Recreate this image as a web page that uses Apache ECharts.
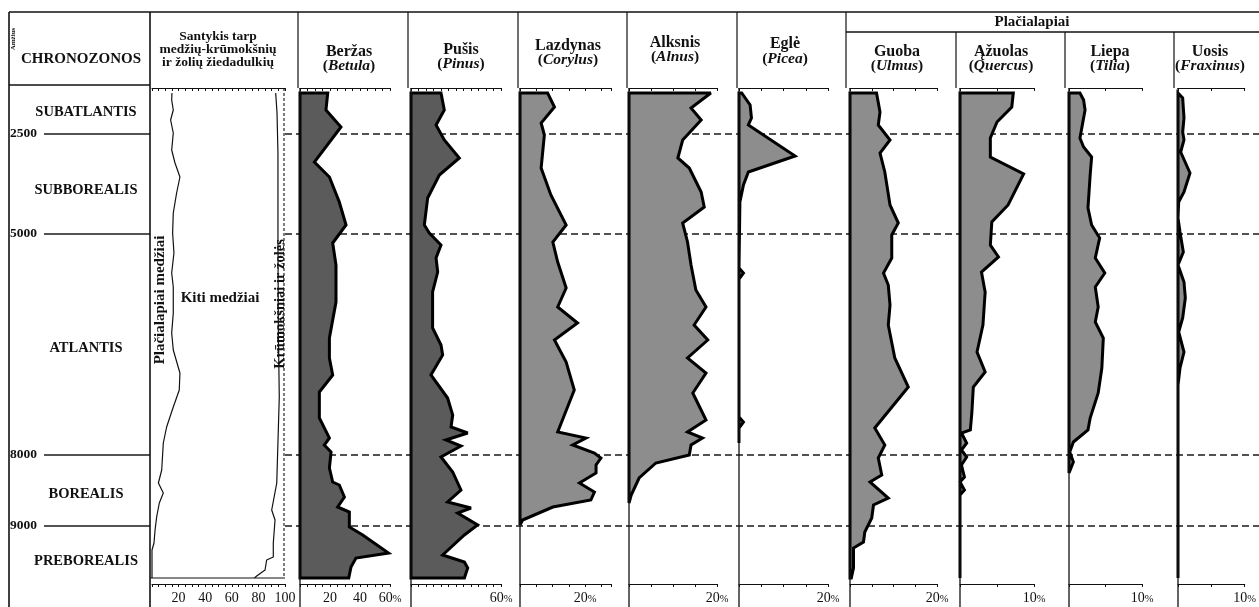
<!DOCTYPE html>
<html>
<head>
<meta charset="utf-8">
<script src="https://cdn.jsdelivr.net/npm/echarts@6/dist/echarts.min.js"></script>
<style>
  html, body { margin: 0; padding: 0; background: #fff; }
  #chart { width: 1259px; height: 607px; }
</style>
</head>
<body>
<div id="chart"></div>
<script>
// Pollen diagram: tree/shrub/herb ratio and tree taxa percentages along the core.
// Depth runs downward in core units (0 = top of the diagram).
const DEPTH_MAX = 485;

// Age boundaries (years BP) and their depths
const ageBoundaries = [
  { age: '2500', depth: 41 },
  { age: '5000', depth: 141 },
  { age: '8000', depth: 362 },
  { age: '9000', depth: 433 }
];

// Chronozones with the depth of their label
const chronozones = [
  { name: 'SUBATLANTIS', depth: 19 },
  { name: 'SUBBOREALIS', depth: 97 },
  { name: 'ATLANTIS', depth: 255 },
  { name: 'BOREALIS', depth: 401 },
  { name: 'PREBOREALIS', depth: 468 }
];

// Ratio panel: cumulative curves, [depth, %]
const broadleafShare = [
  [0,15],[7,14.8],[17,16],[27,14],[40,16],[57,14.8],[70,17.3],[84,21],[100,18.5],[120,16],
  [140,15.5],[160,16.5],[180,14.8],[194,16],[220,16],[240,14.8],[257,16],[280,21],[297,20.5],
  [314,16],[334,11],[350,8.5],[377,7.3],[390,4.8],[400,8.5],[410,5.5],[424,3.5],[437,2.3],
  [450,1.5],[457,0],[485,0]
];
const treeShare = [
  [0,93],[20,94],[60,94.7],[140,94.7],[237,95],[304,95.7],[390,93.8],[417,90],[427,92.5],
  [450,91.2],[464,91.2],[467,86.2],[477,85],[483,78.7],[485,77]
];

// Taxa percentages, [depth, %]
const betula = [
  [0,18.5],[17,17.3],[34,27.3],[69,9.6],[84,19.6],[109,26.2],[132,30.7],[150,21.8],[172,24],
  [209,24],[245,19.6],[265,19.6],[282,21.8],[299,12.9],[325,12.9],[345,19.6],[352,16.2],
  [359,20.7],[375,19.6],[389,21.8],[392,26.2],[404,29.6],[414,25.1],[419,32.9],[434,32.9],
  [442,41.8],[460,59],[465,37.3],[474,34],[485,32.5]
];
const pinus = [
  [0,20],[17,22.2],[32,16.7],[47,22.2],[65,32.2],[82,18.9],[105,11.1],[132,8.9],[140,12.2],
  [152,20],[165,16.7],[179,17.8],[199,14.4],[235,14.4],[252,20],[262,21.1],[282,13.3],
  [305,24.4],[322,27.8],[334,26.7],[340,37.8],[347,23.3],[353,33.3],[364,20],[379,27.8],
  [397,33.3],[409,24.4],[415,40],[420,31.1],[432,44.4],[442,35.6],[462,21.1],[469,35.6],
  [475,37.8],[485,35.6]
];
const corylus = [
  [0,8.5],[14,10.6],[30,6.5],[42,7.5],[75,6.5],[102,9.5],[132,14.2],[149,10.1],[169,11.6],
  [195,14.2],[214,11.6],[230,17.7],[247,10.6],[269,14.2],[297,16.7],[339,11.6],[345,20.3],
  [352,16.2],[360,22.9],[365,24.9],[372,23.4],[380,23.4],[390,18.3],[399,22.9],[407,21.8],
  [414,10.1],[427,0.8],[432,0]
];
const alnus = [
  [0,18.6],[15,14.1],[27,16.4],[47,12.2],[65,11.1],[75,13.7],[99,16.4],[114,17.1],[130,12.2],
  [149,13.3],[172,14.1],[197,15.2],[214,17.5],[232,14.8],[247,17.9],[265,13.3],[280,17.5],
  [300,14.5],[327,17.5],[339,13.3],[345,16.7],[352,14.1],[362,13.7],[370,6.1],[385,2.3],
  [402,0.5],[410,0]
];
const picea = [
  [0,0.6],[12,2.5],[25,2.8],[32,2.1],[63,12.6],[79,2.1],[92,1],[109,0.2],[175,0],[180,1],
  [186,0],[324,0],[329,1],[335,0],[350,0]
];
const ulmus = [
  [0,6.1],[19,6.9],[32,6.5],[47,9.2],[60,6.9],[79,8],[112,9.2],[130,11.1],[142,9.6],[165,9.6],
  [180,7.7],[192,8.8],[212,9.2],[232,8.8],[265,10.3],[294,13.4],[335,5.7],[352,8],[365,6.5],
  [382,7.3],[389,4.6],[405,8.8],[412,5.4],[425,5],[439,3.4],[449,3.1],[455,0.8],[475,0.8],
  [485,0.3]
];
const quercus = [
  [0,7.2],[14,7],[29,5],[45,4.1],[64,4.1],[81,8.6],[112,6.5],[129,4.3],[152,4.1],[164,5.2],
  [179,2.9],[199,3.4],[232,3.1],[259,2.3],[279,3.4],[294,1.8],[320,1.6],[337,1.4],[340,0.2],
  [350,0.9],[357,0.2],[364,0.9],[372,0.2],[384,0.6],[389,0],[397,0.6],[402,0],[485,0]
];
const tilia = [
  [0,1.5],[7,2],[17,2.2],[45,1.5],[54,2],[64,3.1],[82,2.9],[115,2.6],[132,3.1],[145,4.2],
  [165,3.6],[180,4.9],[194,3.6],[214,4],[229,3.6],[245,4.7],[275,4.5],[300,4],[325,2.9],
  [337,2.6],[349,0.6],[359,0.1],[369,0.6],[380,0]
];
const fraxinus = [
  [0,0],[5,0.7],[25,0.9],[39,0.7],[47,0.9],[59,0.4],[80,1.8],[99,0.9],[109,0.1],[125,0],[139,0.3],
  [159,0.8],[172,0],[189,0.9],[205,1.1],[225,0.7],[239,0.1],[259,0.9],[275,0.3],[292,0],[485,0]
];

// Labelled ticks on the bottom axes
const ratioTicks = [20, 40, 60, 80, 100];
const betulaTicks = [20, 40, 60];
const pinusTicks = [60];
const corylusTicks = [20];
const alnusTicks = [20];
const piceaTicks = [20];
const ulmusTicks = [20];
const quercusTicks = [10];
const tiliaTicks = [10];
const fraxinusTicks = [10];

// ---------- layout & styles ----------
const FONT = '"Liberation Serif", "Times New Roman", serif';
const INK = '#111';
const DARK = '#5b5b5b';
const MID = '#8d8d8d';
const PLOT_TOP = 93;
const PLOT_H = 485;
const IMG_BOTTOM = 607;
const HDR_TOP = 12;
const HDR_BOTTOM = 88;
const GROUP_LINE = 32;

const ratioPanel = { left: 152, width: 133, max: 100, ticks: ratioTicks };

const taxa = [
  { name: 'Beržas',   latin: 'Betula',   data: betula,   ticks: betulaTicks,   fill: DARK, left: 300,  width: 90, max: 60, sep: 298,  cx: 349,  ny: 52, ly: 66 },
  { name: 'Pušis',    latin: 'Pinus',    data: pinus,    ticks: pinusTicks,    fill: DARK, left: 411,  width: 90, max: 60, sep: 408,  cx: 461,  ny: 50, ly: 64 },
  { name: 'Lazdynas', latin: 'Corylus',  data: corylus,  ticks: corylusTicks,  fill: MID,  left: 520,  width: 91, max: 28, sep: 518,  cx: 568,  ny: 46, ly: 60 },
  { name: 'Alksnis',  latin: 'Alnus',    data: alnus,    ticks: alnusTicks,    fill: MID,  left: 629,  width: 88, max: 20, sep: 627,  cx: 675,  ny: 43, ly: 57 },
  { name: 'Eglė',     latin: 'Picea',    data: picea,    ticks: piceaTicks,    fill: MID,  left: 739,  width: 89, max: 20, sep: 737,  cx: 785,  ny: 44, ly: 59 },
  { name: 'Guoba',    latin: 'Ulmus',    data: ulmus,    ticks: ulmusTicks,    fill: MID,  left: 850,  width: 87, max: 20, sep: 846,  cx: 897,  ny: 52, ly: 66 },
  { name: 'Ąžuolas',  latin: 'Quercus',  data: quercus,  ticks: quercusTicks,  fill: MID,  left: 960,  width: 74, max: 10, sep: 956,  cx: 1001, ny: 52, ly: 66, inGroup: true },
  { name: 'Liepa',    latin: 'Tilia',    data: tilia,    ticks: tiliaTicks,    fill: MID,  left: 1069, width: 73, max: 10, sep: 1065, cx: 1110, ny: 52, ly: 66, inGroup: true },
  { name: 'Uosis',    latin: 'Fraxinus', data: fraxinus, ticks: fraxinusTicks, fill: MID,  left: 1178, width: 70, max: 10, sep: 1174, cx: 1210, ny: 52, ly: 66, inGroup: true }
];

const grids = [{ left: 0, top: PLOT_TOP, width: 1259, height: PLOT_H }];
const xAxes = [{ gridIndex: 0, type: 'value', min: 0, max: 1, show: false }];
const yAxes = [{ gridIndex: 0, type: 'value', min: 0, max: DEPTH_MAX, inverse: true, show: false }];

const labelRich = {
  n: { fontFamily: FONT, fontSize: 14, color: INK },
  s: { fontFamily: FONT, fontSize: 10.5, color: INK, padding: [2, 0, 0, 0] }
};

// Adds one panel (grid + bottom/top axes + depth axis); returns axis indices
function addPanel(p, withPct) {
  const gi = grids.length;
  grids.push({ left: p.left, top: PLOT_TOP, width: p.width, height: PLOT_H });
  const lastTick = p.ticks[p.ticks.length - 1];
  const common = {
    gridIndex: gi, type: 'value', min: 0, max: p.max, interval: 5,
    splitLine: { show: false },
    axisLine: { show: true, onZero: false, lineStyle: { color: INK, width: 1.2 } }
  };
  const xi = xAxes.length;
  xAxes.push(Object.assign({}, common, {
    position: 'bottom', offset: 6,
    axisTick: { show: true, inside: false, length: 3, lineStyle: { color: INK, width: 1 } },
    axisLabel: {
      show: true, margin: 7, customValues: p.ticks,
      formatter: v => (withPct && v === lastTick) ? `{n|${v}}{s|%}` : `{n|${v}}`,
      rich: labelRich
    }
  }));
  xAxes.push(Object.assign({}, common, {
    position: 'top', offset: 5,
    axisTick: { show: true, inside: true, length: 3, lineStyle: { color: INK, width: 1 } },
    axisLabel: { show: false }
  }));
  const yi = yAxes.length;
  yAxes.push({ gridIndex: gi, type: 'value', min: 0, max: DEPTH_MAX, inverse: true, show: false });
  return { xi, yi };
}

const series = [];

// Age boundaries: solid in the chronozone column, dashed across the taxa panels
series.push({
  type: 'custom', xAxisIndex: 0, yAxisIndex: 0, z: 1, silent: true, clip: false,
  data: ageBoundaries.map(b => [0, b.depth]),
  renderItem: (params, api) => {
    const y = api.coord([0, api.value(1)])[1];
    return {
      type: 'group',
      children: [
        { type: 'line', shape: { x1: 44, y1: y, x2: 150, y2: y }, style: { stroke: '#1a1a1a', lineWidth: 1.5 } },
        { type: 'line', shape: { x1: 285, y1: y, x2: 1259, y2: y }, style: { stroke: '#1a1a1a', lineWidth: 1.5, lineDash: [7, 4] } },
        { type: 'text', x: 10, y: y, style: {
          text: ageBoundaries[params.dataIndex].age, fill: INK,
          font: `bold 13.5px ${FONT}`, align: 'left', verticalAlign: 'middle' } }
      ]
    };
  }
});

// Chronozone names
series.push({
  type: 'custom', xAxisIndex: 0, yAxisIndex: 0, z: 2, silent: true, clip: false,
  data: chronozones.map(c => [0, c.depth]),
  renderItem: (params, api) => {
    const y = api.coord([0, api.value(1)])[1];
    return { type: 'text', x: 86, y: y, style: {
      text: chronozones[params.dataIndex].name, fill: INK,
      font: `bold 14.5px ${FONT}`, align: 'center', verticalAlign: 'middle' } };
  }
});

// Ratio panel curves
const ra = addPanel(ratioPanel, false);
[broadleafShare, treeShare].forEach(arr => {
  series.push({
    type: 'line', xAxisIndex: ra.xi, yAxisIndex: ra.yi, z: 3, silent: true,
    symbol: 'none', lineStyle: { color: INK, width: 1.2 },
    data: arr.map(([d, v]) => [v, d])
  });
});

// Taxa silhouettes
taxa.forEach(t => {
  const ax = addPanel(t, true);
  series.push({
    type: 'custom', xAxisIndex: ax.xi, yAxisIndex: ax.yi, z: 4, silent: true, clip: false,
    data: t.data.map(([d, v]) => [v, d]),
    renderItem: (params, api) => {
      if (params.dataIndex !== 0) return null;
      const first = t.data[0][0];
      const last = t.data[t.data.length - 1][0];
      const pts = [api.coord([0, first])];
      t.data.forEach(([d, v]) => pts.push(api.coord([v, d])));
      pts.push(api.coord([0, last]));
      return {
        type: 'polygon', shape: { points: pts },
        style: { fill: t.fill, stroke: '#000', lineWidth: 3, lineJoin: 'miter', miterLimit: 3 }
      };
    }
  });
});

// ---------- frame and header ----------
const graphic = [];
function hline(x1, y1, x2, y2, w, dash) {
  graphic.push({ type: 'line', z: 10, silent: true,
    shape: { x1, y1, x2, y2 },
    style: { stroke: INK, lineWidth: w || 1.3, lineDash: dash || null } });
}
function txt(x, y, text, font, extra) {
  graphic.push(Object.assign({ type: 'text', z: 10, silent: true, x, y,
    style: { text, font, fill: INK, align: 'center', verticalAlign: 'middle' } }, extra || {}));
}

hline(9, HDR_TOP, 1259, HDR_TOP, 1.6);
hline(9, HDR_TOP, 9, IMG_BOTTOM, 1.6);
hline(150, HDR_TOP, 150, IMG_BOTTOM, 1.6);
hline(9, 85, 150, 85, 1.3);
hline(284, HDR_BOTTOM, 284, PLOT_TOP + PLOT_H, 1.1, [3, 2]);
hline(150, PLOT_TOP + PLOT_H, 285, PLOT_TOP + PLOT_H, 1.2);
hline(846, GROUP_LINE, 1259, GROUP_LINE, 1.3);

taxa.forEach(t => {
  hline(t.sep, t.inGroup ? GROUP_LINE : HDR_TOP, t.sep, HDR_BOTTOM, 1.2);
  hline(t.left, HDR_BOTTOM, t.left, IMG_BOTTOM, 1.3);
  txt(t.cx, t.ny, t.name, `bold 16px ${FONT}`);
  graphic.push({ type: 'text', z: 10, silent: true, x: t.cx, y: t.ly,
    style: {
      text: `{p|(}{i|${t.latin}}{p|)}`, align: 'center', verticalAlign: 'middle',
      rich: {
        p: { fontFamily: FONT, fontSize: 15.5, fontWeight: 'bold', fill: INK },
        i: { fontFamily: FONT, fontSize: 15.5, fontWeight: 'bold', fontStyle: 'italic', fill: INK }
      }
    } });
});

txt(81, 59, 'CHRONOZONOS', `bold 15px ${FONT}`);
txt(13.5, 39, 'Amžius', `bold 7px ${FONT}`, { rotation: Math.PI / 2 });
txt(218, 37, 'Santykis tarp', `bold 13.5px ${FONT}`);
txt(218, 50, 'medžių-krūmokšnių', `bold 13.5px ${FONT}`);
txt(218, 63, 'ir žolių žiedadulkių', `bold 13.5px ${FONT}`);
txt(1032, 22, 'Plačialapiai', `bold 15px ${FONT}`);
txt(220, 298, 'Kiti medžiai', `bold 15px ${FONT}`);
txt(160, 300, 'Plačialapiai medžiai', `bold 15px ${FONT}`, { rotation: Math.PI / 2 });
txt(280, 304, 'Krūmokšniai ir žolės', `bold 14.5px ${FONT}`, { rotation: Math.PI / 2 });

const chart = echarts.init(document.getElementById('chart'));
chart.setOption({
  animation: false,
  backgroundColor: '#fff',
  grid: grids,
  xAxis: xAxes,
  yAxis: yAxes,
  series: series,
  graphic: graphic
});
</script>
</body>
</html>
